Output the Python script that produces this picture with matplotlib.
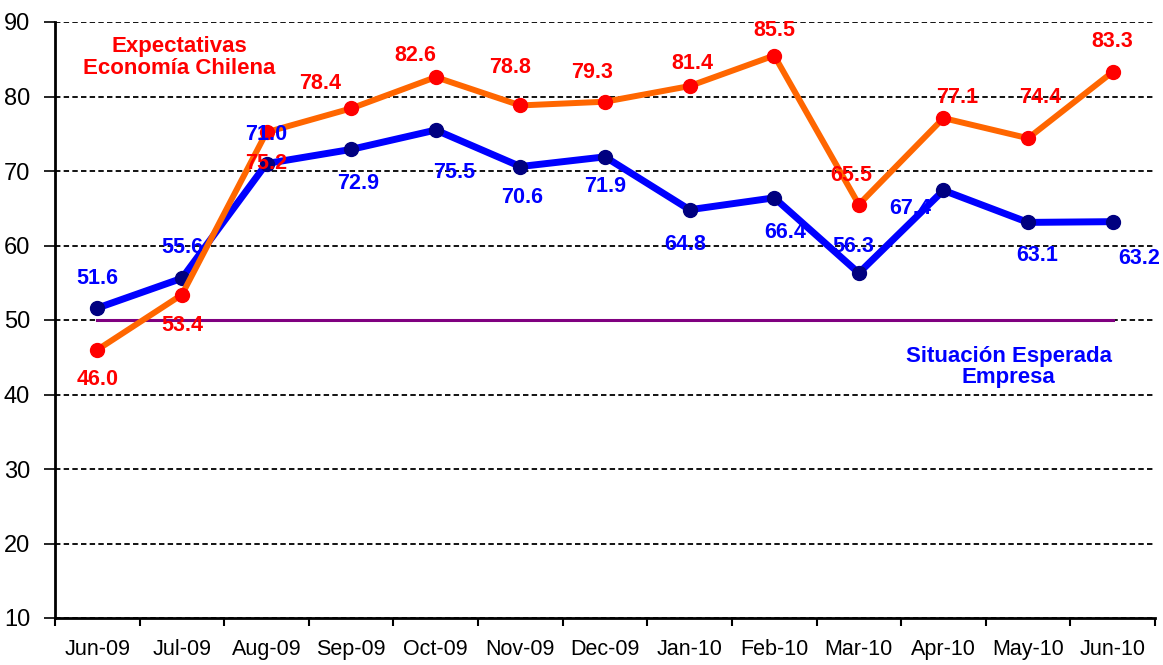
import numpy as np
import matplotlib
matplotlib.use("Agg")
from matplotlib import pyplot as plt

plt.rcParams['font.family'] = ['Liberation Sans', 'DejaVu Sans']

months = ["Jun-09", "Jul-09", "Aug-09", "Sep-09", "Oct-09", "Nov-09", "Dec-09",
          "Jan-10", "Feb-10", "Mar-10", "Apr-10", "May-10", "Jun-10"]
economia = [46.0, 53.4, 75.2, 78.4, 82.6, 78.8, 79.3, 81.4, 85.5, 65.5, 77.1, 74.4, 83.3]
empresa = [51.6, 55.6, 71.0, 72.9, 75.5, 70.6, 71.9, 64.8, 66.4, 56.3, 67.4, 63.1, 63.2]
neutral = [50] * len(months)

# label offsets in pixels (dx, dy)
off_economia = [(0, -30), (0, -31), (0, -31), (-31, 25), (-20, 22), (-10, 38), (-13, 29),
                (3, 23), (0, 25), (-8, 29), (14, 21), (12, 41), (0, 30)]
off_empresa = [(0, 30), (0, 31), (0, 29), (7, -34), (18, -42), (2, -31), (0, -30),
               (-4, -35), (11, -35), (-6, 27), (-33, -18), (9, -33), (26, -37)]

x = np.arange(len(months))

fig = plt.figure(figsize=(11.63, 6.65), dpi=100)
ax = fig.add_axes([55 / 1163, 47 / 665, 1100 / 1163, 596 / 665])

ax.plot(x, neutral, color='#800080', lw=2.2, zorder=2)
ax.plot(x, empresa, color='#0000FF', lw=5, marker='o', ms=10,
        mfc='#000080', mec='#000080', zorder=3)
ax.plot(x, economia, color='#FF6600', lw=4.3, marker='o', ms=10,
        mfc='#FF0000', mec='#FF0000', zorder=3)

for i in x:
    ax.annotate(f"{empresa[i]:.1f}", (i, empresa[i]), xytext=off_empresa[i],
                textcoords='offset pixels', ha='center', va='center',
                color='#0000FF', fontsize=15.5, fontweight='bold', zorder=4)
    ax.annotate(f"{economia[i]:.1f}", (i, economia[i]), xytext=off_economia[i],
                textcoords='offset pixels', ha='center', va='center',
                color='#FF0000', fontsize=15.5, fontweight='bold', zorder=4)

ax.text(0.97, 85.2, "Expectativas\nEconomía Chilena", ha='center', va='center',
        color='#FF0000', fontsize=16, fontweight='bold', linespacing=1.05)
ax.text(10.77, 43.7, "Situación Esperada\nEmpresa", ha='center', va='center',
        color='#0000FF', fontsize=16, fontweight='bold', linespacing=1.05)

ax.set_xlim(-0.5, len(months) - 0.5)
ax.set_ylim(10, 90)
ax.set_yticks(np.arange(10, 91, 10))
ax.yaxis.grid(True, color='black', ls=(0, (3, 1.8)), lw=1.3)
ax.set_axisbelow(True)

ax.set_xticks(x)
ax.set_xticklabels(months, fontsize=15.5)
ax.set_xticks(np.arange(-0.5, len(months), 1), minor=True)
ax.tick_params(axis='x', which='major', length=0, pad=15)
ax.tick_params(axis='x', which='minor', length=6, width=1.5, direction='out')
ax.tick_params(axis='y', length=8, width=1.2, labelsize=17, pad=10)

for s in ['top', 'right']:
    ax.spines[s].set_visible(False)
ax.spines['left'].set_linewidth(2)
ax.spines['bottom'].set_linewidth(2)

fig.savefig("out.png", dpi=100)
